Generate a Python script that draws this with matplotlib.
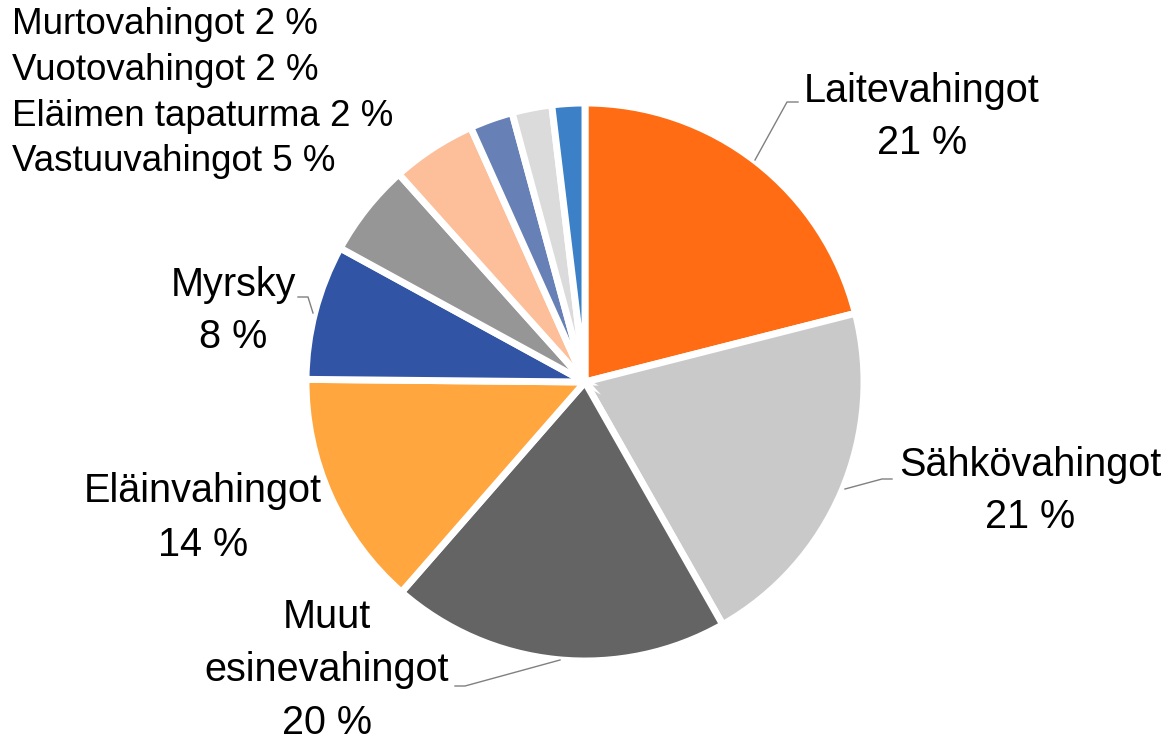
import matplotlib.pyplot as plt

plt.rcParams['font.family'] = ['Liberation Sans', 'DejaVu Sans']

# slices, clockwise from 12 o'clock
categories = ['Laitevahingot', 'Sähkövahingot', 'Muut esinevahingot', 'Eläinvahingot',
              'Myrsky', '', 'Vastuuvahingot', 'Eläimen tapaturma', 'Vuotovahingot',
              'Murtovahingot']
values = [21.0, 20.7, 19.6, 13.7, 7.8, 5.4, 4.9, 2.5, 2.3, 1.9]
shown_pct = [21, 21, 20, 14, 8, 5, 5, 2, 2, 2]
colors = ['#FF6C14', '#C9C9C9', '#646464', '#FFA63F', '#3254A4',
          '#969696', '#FDBE9A', '#6780B6', '#DBDBDB', '#3C80C8']

W, H = 1162, 744
fig = plt.figure(figsize=(W / 100, H / 100), dpi=100)
ax = fig.add_axes([0, 0, 1, 1])

def fy(y):
    # picture rows -> axis y
    return H - y

ax.pie(values, colors=colors, startangle=90, counterclock=False,
       center=(585, fy(382)), radius=279,
       wedgeprops=dict(edgecolor='white', linewidth=5))
ax.set_xlim(0, W)
ax.set_ylim(0, H)
ax.set_aspect('equal')
ax.axis('off')

big = 28.5
# labels next to the big slices
label_pos = {
    'Laitevahingot': (922, 117),
    'Sähkövahingot': (1030, 491),
    'Muut esinevahingot': (327, 670),
    'Eläinvahingot': (203, 518),
    'Myrsky': (233, 311),
}
for name, p in zip(categories, shown_pct):
    if name in label_pos:
        x, y = label_pos[name]
        txt = name.replace(' ', '\n') + '\n%d %%' % p
        ax.text(x, fy(y), txt, ha='center', va='center', fontsize=big,
                linespacing=1.5)

# small slices listed in the corner
small = ['Murtovahingot', 'Vuotovahingot', 'Eläimen tapaturma', 'Vastuuvahingot']
for i, name in enumerate(small):
    p = shown_pct[categories.index(name)]
    ax.text(12, fy(25 + i * 45.5), '%s %d %%' % (name, p), ha='left', va='center',
            fontsize=26.5)

# leader lines
leaders = [
    [(755, 160), (787, 102), (798, 102)],
    [(845, 489), (882, 479), (892, 479)],
    [(560, 660), (465, 686), (455, 686)],
    [(313, 313), (308, 297), (298, 297)],
]
for pts in leaders:
    ax.plot([p[0] for p in pts], [fy(p[1]) for p in pts], color='#808080', lw=1)

fig.savefig('out.png', dpi=100)
